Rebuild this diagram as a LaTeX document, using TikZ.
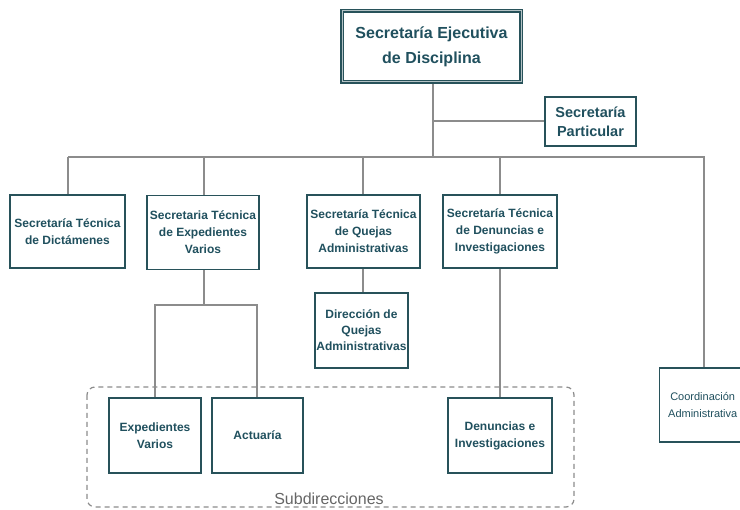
\documentclass[tikz,border=0pt]{standalone}
\usepackage{fontspec}
\setmainfont{Liberation Sans}
\definecolor{boxline}{RGB}{40,82,90}
\definecolor{boxtext}{RGB}{32,80,94}
\definecolor{wirecol}{RGB}{140,140,140}
\tikzset{
  unit/.style={draw=boxline, line width=1.4pt, fill=white, align=center,
    text=boxtext, font=\bfseries\fontsize{12}{17}\selectfont, inner sep=1pt},
  headunit/.style={unit, line width=1.5pt, double=boxline!35, double distance=1pt,
    font=\bfseries\fontsize{16}{25}\selectfont},
  wire/.style={draw=wirecol, line width=1.6pt},
}
\begin{document}
\begin{tikzpicture}[x=1pt,y=-1pt]
\clip (0,0) rectangle (740,510);
\fill[white] (0,0) rectangle (740,510);

% grupo de subdirecciones
\draw[wirecol, line width=1.2pt, dash pattern=on 5pt off 4pt, rounded corners=8pt]
  (87,387) rectangle (574,507);
\node[text=gray!80!black, font=\fontsize{16}{18}\selectfont] (subd) at (329,499) {Subdirecciones};

% lineas
\coordinate (bus) at (433,157);
\coordinate (busR) at (704,157);
\coordinate (fork) at (204,305);
\draw[wire] (433,83) -- (bus);
\draw[wire] (433,121) -- (545,121);
\draw[wire] (68,157) -- (busR) -- (704,368);
\draw[wire] (68,157) -- (68,195);
\draw[wire] (204,157) -- (204,195);
\draw[wire] (363,157) -- (363,195);
\draw[wire] (500,157) -- (500,195);
\draw[wire] (204,270) -- (fork);
\draw[wire] (155,398) -- (155,305) -- (257,305) -- (257,398);
\draw[wire] (363,268) -- (363,293);
\draw[wire] (500,268) -- (500,398);

% cajas
\node[headunit, minimum width=179pt, minimum height=71pt] (sed) at (431.5,46.5) {Secretaría Ejecutiva\\de Disciplina};
\node[unit, minimum width=91pt, minimum height=49pt, font=\bfseries\fontsize{14.5}{19}\selectfont] (part) at (590.5,121.5) {Secretaría\\Particular};

\node[unit, minimum width=115pt, minimum height=73pt] (dict) at (67.5,231.5) {Secretaría Técnica\\de Dictámenes};
\node[unit, minimum width=112pt, minimum height=74pt] (stexp) at (203,232.5) {Secretaria Técnica\\de Expedientes\\Varios};
\node[unit, minimum width=113pt, minimum height=73pt] (stq) at (363.5,231.5) {Secretaría Técnica\\de Quejas\\Administrativas};
\node[unit, minimum width=114pt, minimum height=73pt] (stden) at (500,231.5) {Secretaría Técnica\\de Denuncias e\\Investigaciones};

\node[unit, minimum width=93pt, minimum height=75pt, font=\bfseries\fontsize{12}{16}\selectfont] (dirq) at (361.5,330.5) {Dirección de\\Quejas\\Administrativas};
\node[unit, minimum width=92pt, minimum height=75pt] (expv) at (155,435.5) {Expedientes\\Varios};
\node[unit, minimum width=91pt, minimum height=75pt] (actu) at (257.5,435.5) {Actuaría};
\node[unit, minimum width=104pt, minimum height=75pt] (den) at (500,435.5) {Denuncias e\\Investigaciones};
\node[unit, minimum width=92pt, minimum height=74pt, anchor=west,
  label={[xshift=-3pt, align=center, text=boxtext, font=\fontsize{11}{17}\selectfont]center:Coordinación\\Administrativa}]
  (coord) at (659,405) {};
\end{tikzpicture}
\end{document}
